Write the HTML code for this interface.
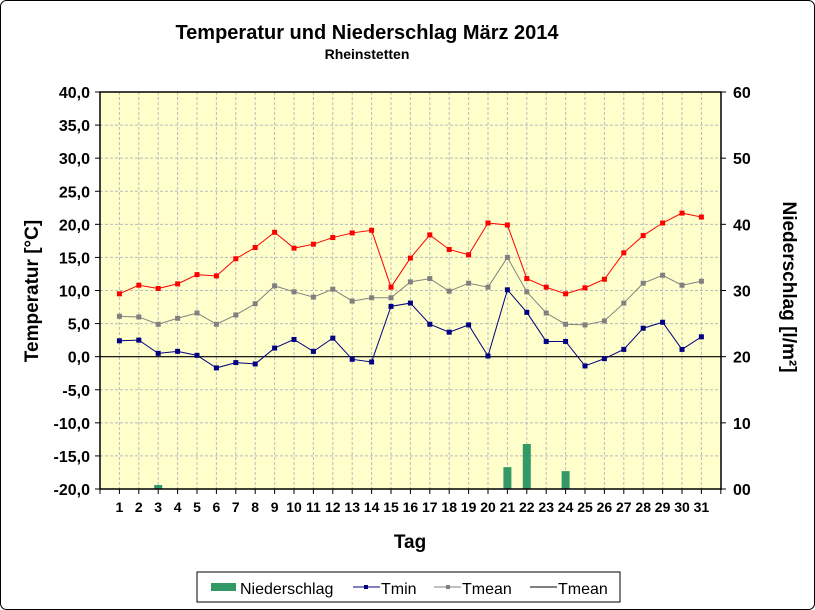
<!DOCTYPE html>
<html><head><meta charset="utf-8"><style>
html,body{margin:0;padding:0;background:#fff}
svg{display:block}
text{font-family:"Liberation Sans",Arial,sans-serif;font-weight:bold;fill:#000}
</style></head><body>
<svg id="s" width="815" height="610" xmlns="http://www.w3.org/2000/svg">
<rect x="0.5" y="0.5" width="814" height="609" rx="6" fill="#fff" stroke="#000" stroke-width="1"/>
<text x="367" y="39" font-size="20" text-anchor="middle">Temperatur und Niederschlag  März 2014</text>
<text x="367" y="59" font-size="14" text-anchor="middle">Rheinstetten</text>
<rect x="100" y="92" width="621" height="397" fill="#ffffcc"/>
<g id="g"></g>
<rect x="100" y="92" width="621" height="397" fill="none" stroke="#000" stroke-width="1.5"/>
<text transform="translate(38,291) rotate(-90)" font-size="19" text-anchor="middle">Temperatur [°C]</text>
<text transform="translate(783,287) rotate(90)" font-size="19" text-anchor="middle">Niederschlag [l/m²]</text>
<text x="410" y="548" font-size="19" text-anchor="middle">Tag</text>
<rect x="197" y="572" width="423" height="30" fill="#fff" stroke="#000"/>
<rect x="211" y="583" width="25" height="8" fill="#339966"/>
<text x="240" y="594" font-size="16" style="font-weight:normal">Niederschlag</text>
<line x1="353" y1="587" x2="380" y2="587" stroke="#000080"/><rect x="364" y="585" width="4" height="4" fill="#000080"/>
<text x="381" y="594" font-size="16" style="font-weight:normal">Tmin</text>
<line x1="434" y1="587" x2="461" y2="587" stroke="#808080"/><rect x="446" y="585" width="4" height="4" fill="#808080"/>
<text x="462" y="594" font-size="16" style="font-weight:normal">Tmean</text>
<line x1="530" y1="587" x2="557" y2="587" stroke="#000"/>
<text x="558" y="594" font-size="16" style="font-weight:normal">Tmean</text>
</svg>
<script>
var g=document.getElementById('g'),h='';
function X(i){return 100+19.4*i}
function Y(t){return 92+(40-t)*397/60}
function P(v){return 489-v*397/60}
for(var t=-15;t<=35;t+=5){h+='<line x1="100" x2="721" y1="'+Y(t)+'" y2="'+Y(t)+'" stroke="#bbbbbb" stroke-dasharray="3,2"/>';}
for(var i=1;i<=31;i++){h+='<line x1="'+X(i)+'" x2="'+X(i)+'" y1="92" y2="489" stroke="#bbbbbb" stroke-dasharray="3,2"/>';}
for(var t=-20;t<=40;t+=5){var y=Y(t);h+='<line x1="95" x2="100" y1="'+y+'" y2="'+y+'" stroke="#000"/>';h+='<text x="90" y="'+(y+6)+'" font-size="16" text-anchor="end">'+t.toFixed(1).replace('.',',')+'</text>';}
for(var p=0;p<=60;p+=10){var y=P(p);h+='<line x1="721" x2="726" y1="'+y+'" y2="'+y+'" stroke="#000"/>';h+='<text x="733" y="'+(y+6)+'" font-size="16">'+(p==0?'00':p)+'</text>';}
for(var i=0;i<=32;i++){h+='<line x1="'+X(i)+'" x2="'+X(i)+'" y1="489" y2="494" stroke="#000"/>';}
for(var i=1;i<=31;i++){h+='<text x="'+X(i)+'" y="512" font-size="14" text-anchor="middle">'+i+'</text>';}
var pr={3:0.6,21:3.3,22:6.8,24:2.7};
for(var k in pr){var y=P(pr[k]);h+='<rect x="'+(X(+k)-4)+'" y="'+y+'" width="8" height="'+(489-y)+'" fill="#339966"/>';}
h+='<line x1="100" x2="721" y1="'+Y(0)+'" y2="'+Y(0)+'" stroke="#000" stroke-width="1.2"/>';
var mx=[9.5,10.8,10.3,11,12.4,12.2,14.8,16.5,18.8,16.4,17,18,18.7,19.1,10.5,14.9,18.4,16.2,15.4,20.2,19.9,11.8,10.5,9.5,10.4,11.7,15.7,18.3,20.2,21.7,21.1];
var me=[6.1,6,4.9,5.8,6.6,4.9,6.3,8,10.7,9.8,9,10.2,8.4,8.9,8.9,11.3,11.8,9.9,11.1,10.5,15,9.8,6.6,4.9,4.8,5.4,8.1,11.1,12.3,10.8,11.4];
var mn=[2.4,2.5,0.5,0.8,0.2,-1.7,-0.9,-1.1,1.3,2.6,0.8,2.8,-0.4,-0.8,7.6,8.1,4.9,3.7,4.8,0.1,10.1,6.7,2.3,2.3,-1.4,-0.3,1.1,4.3,5.2,1.1,3];
function S(d,c){var pts=d.map(function(v,i){return X(i+1)+','+Y(v)}).join(' ');h+='<polyline points="'+pts+'" fill="none" stroke="'+c+'" stroke-width="1"/>';d.forEach(function(v,i){h+='<rect x="'+(X(i+1)-2.5)+'" y="'+(Y(v)-2.5)+'" width="5" height="5" fill="'+c+'"/>';});}
S(me,'#808080');S(mx,'#ff0000');S(mn,'#000080');
g.innerHTML=h;
</script>
</body></html>
